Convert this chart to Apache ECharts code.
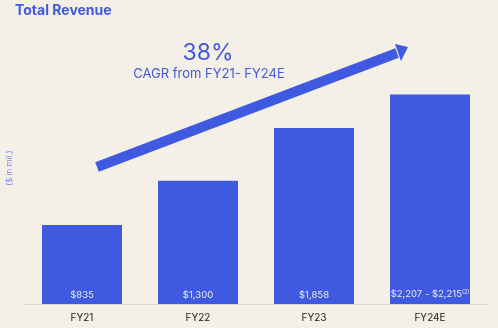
<!DOCTYPE html>
<html>
<head>
<meta charset="utf-8">
<script src="https://cdn.jsdelivr.net/npm/echarts@6/dist/echarts.min.js"></script>
<style>
  html, body { margin: 0; padding: 0; background: #f4f0e7; }
  #chart { width: 498px; height: 328px; }
</style>
</head>
<body>
<div id="chart"></div>
<script>
// Revenue by fiscal year ($ in millions); FY24E drawn at the midpoint of its guidance range
const categories = ['FY21', 'FY22', 'FY23', 'FY24E'];
const revenue = [835, 1300, 1858, 2211];
const valueLabels = ['$835', '$1,300', '$1,858', '$2,207 - $2,215{sup|(2)}'];

const blue = '#3f5ae0';
const chart = echarts.init(document.getElementById('chart'));

chart.setOption({
  backgroundColor: '#f4f0e7',
  animation: false,
  grid: { left: 24, right: 10, top: 16, bottom: 24 },
  xAxis: {
    type: 'category',
    data: categories,
    axisLine: { lineStyle: { color: '#dcdad4', width: 1 } },
    axisTick: { show: false },
    axisLabel: { color: '#222', fontSize: 10, fontFamily: 'Inter', margin: 9 }
  },
  yAxis: {
    type: 'value',
    min: 0,
    max: 3040,
    show: false,
    splitLine: { show: false }
  },
  series: [{
    type: 'bar',
    data: revenue,
    barWidth: 80,
    itemStyle: { color: blue },
    label: {
      show: true,
      position: 'insideBottom',
      distance: 4,
      color: '#e8ebfb',
      fontSize: 9.5,
      fontFamily: 'Inter',
      width: 90,
      overflow: 'none',
      align: 'center',
      formatter: p => valueLabels[p.dataIndex],
      rich: { sup: { fontSize: 5.5, color: '#e8ebfb', verticalAlign: 'top', padding: [0, 0, 5, 0] } }
    }
  }],
  graphic: [
    {
      type: 'text', left: 15, top: 4,
      style: { text: 'Total Revenue', fill: blue, fontSize: 14, fontWeight: 'bold', fontFamily: 'Inter' }
    },
    {
      type: 'text', x: 10, y: 168, rotation: Math.PI / 2,
      style: { text: '($ in mil.)', fill: '#7b8de8', fontSize: 8, fontFamily: 'Inter', align: 'center', verticalAlign: 'middle' }
    },
    {
      type: 'text', x: 208, y: 53,
      style: { text: '38%', fill: blue, fontSize: 23, fontFamily: 'Inter', align: 'center', verticalAlign: 'middle' }
    },
    {
      type: 'text', x: 209, y: 74,
      style: { text: 'CAGR from FY21- FY24E', fill: blue, fontSize: 13, fontFamily: 'Inter', align: 'center', verticalAlign: 'middle' }
    },
    // growth arrow
    {
      type: 'line',
      shape: { x1: 97, y1: 167, x2: 397, y2: 53 },
      style: { stroke: blue, lineWidth: 10 }
    },
    {
      type: 'polygon',
      shape: { points: [[408, 47], [395, 44], [401, 61]] },
      style: { fill: blue }
    }
  ]
});
</script>
</body>
</html>
